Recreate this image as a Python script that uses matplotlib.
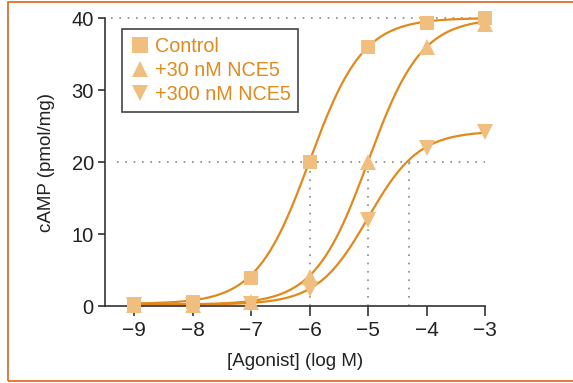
import numpy as np
import matplotlib.pyplot as plt
from matplotlib.patches import Rectangle

# log agonist concentrations
log_agonist = [-9, -8, -7, -6, -5, -4, -3]

# measured cAMP (pmol/mg)
control = [0.3, 0.5, 3.9, 20.0, 36.0, 39.3, 40.0]
nce5_30 = [0.2, 0.2, 0.5, 4.0, 20.0, 36.0, 39.2]
nce5_300 = [0.2, 0.2, 0.3, 2.3, 12.0, 22.0, 24.2]

# fitted curve parameters: bottom, top, logEC50, hill slope
control_fit = (0.3, 40.0, -6.0, 0.95)
nce5_30_fit = (0.2, 40.0, -5.0, 0.95)
nce5_300_fit = (0.2, 24.3, -5.0, 1.0)

# dotted guide lines
guide_levels = [40, 20]
guide_x = [-6, -5, -4.3]

line_col = '#E0891C'
fill_col = '#F0BF80'
text_col = '#E0891C'


def hill(x, bottom, top, logec50, n):
    return bottom + (top - bottom) / (1 + 10 ** (n * (logec50 - x)))


plt.rcParams['font.family'] = ['Liberation Sans', 'DejaVu Sans']

fig = plt.figure(figsize=(5.73, 3.83), dpi=100)
ax = fig.add_axes([0.1832, 0.201, 0.6632, 0.752])

# figure border
fig.patches.append(Rectangle((0.014, 0.005), 1.0, 0.99, transform=fig.transFigure,
                             fill=False, edgecolor='#D9651E', linewidth=1.2))

# guide lines
ax.plot([-9.4, -3], [guide_levels[0]] * 2, ls=(0, (1, 4)), color='#888888', lw=1.2, zorder=1, clip_on=False)
ax.plot([-9.3, -3], [guide_levels[1]] * 2, ls=(0, (1, 4)), color='#888888', lw=1.2, zorder=1)
for gx in guide_x:
    ax.plot([gx, gx], [0, 20], ls=(0, (1, 4)), color='#888888', lw=1.2, zorder=1)

xs = np.linspace(-9, -3, 300)
for vals, fit, mk, lab in [(control, control_fit, 's', 'Control'),
                           (nce5_30, nce5_30_fit, '^', '+30 nM NCE5'),
                           (nce5_300, nce5_300_fit, 'v', '+300 nM NCE5')]:
    ax.plot(xs, hill(xs, *fit), color=line_col, lw=1.6, zorder=2, clip_on=False)
    ax.plot(log_agonist, vals, mk, color=fill_col, markersize=10.5 if mk == 's' else 11,
            markeredgewidth=0, zorder=3, clip_on=False, label=lab)

ax.set_xlim(-9.5, -3)
ax.set_ylim(0, 40)
ax.set_xticks(log_agonist)
ax.set_yticks([0, 10, 20, 30, 40])
for s in ['top', 'right']:
    ax.spines[s].set_visible(False)
for s in ['left', 'bottom']:
    ax.spines[s].set_color('#333333')
    ax.spines[s].set_linewidth(1.2)
ax.tick_params(axis='x', length=7, width=1.2, color='#333333', labelsize=15, labelcolor='#222222', pad=4)
ax.tick_params(axis='y', length=5, width=1.2, color='#333333', labelsize=14.5, labelcolor='#222222', pad=3)

ax.set_xlabel('[Agonist] (log M)', fontsize=13.5, color='#222222', labelpad=9)
ax.set_ylabel('cAMP (pmol/mg)', fontsize=13.5, color='#222222', labelpad=12)

leg = ax.legend(loc='upper left', bbox_to_anchor=(0.045, 0.962), borderaxespad=0,
                fancybox=False, edgecolor='#444444', framealpha=1, fontsize=14.2,
                labelcolor=text_col, handletextpad=0.25, handlelength=1.0,
                borderpad=0.4, labelspacing=0.25, markerscale=1.05)
leg.get_frame().set_linewidth(1.2)

fig.savefig('out.png', dpi=100)
